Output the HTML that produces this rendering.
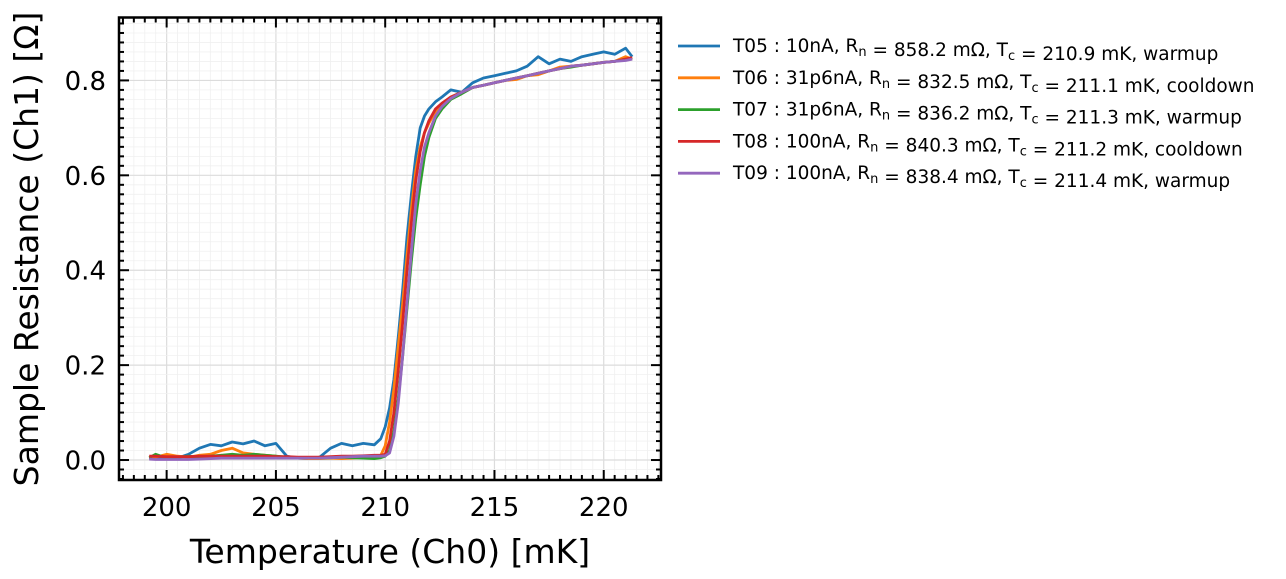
<!DOCTYPE html>
<html><head><meta charset="utf-8"><style>
html,body{margin:0;padding:0;background:#fff;width:1286px;height:579px;overflow:hidden}
svg{display:block;font-family:"DejaVu Sans","Liberation Sans",sans-serif}
</style></head><body>
<svg id="chart" width="1286" height="579" viewBox="0 0 1286 579" xmlns="http://www.w3.org/2000/svg">
<g id="grid"></g>
<g id="series"></g>
<g id="ticks"></g>
<rect x="119" y="17.5" width="542" height="462.5" fill="none" stroke="#000" stroke-width="2.5"/>
<text x="390" y="563" font-size="33" text-anchor="middle">Temperature (Ch0) [mK]</text>
<text transform="translate(38,249) rotate(-90)" font-size="33" text-anchor="middle">Sample Resistance (Ch1) [Ω]</text>
<g id="legend"></g>
</svg>
<script>
const temps=[199.2,199.5,200,200.5,201,201.5,202,202.5,203,203.5,204,204.5,205,205.5,206,206.5,207,207.5,208,208.5,209,209.5,209.8,210,210.2,210.4,210.6,210.8,211,211.2,211.4,211.6,211.8,212,212.3,212.6,213,213.5,214,214.5,215,215.5,216,216.5,217,217.5,218,218.5,219,219.5,220,220.5,221,221.3];
const t05=[.005,.003,.002,.004,.012,.025,.033,.030,.038,.034,.040,.030,.035,.008,.004,.003,.006,.025,.035,.030,.035,.032,.045,.07,.11,.17,.26,.36,.47,.56,.64,.70,.725,.74,.755,.765,.78,.775,.795,.805,.81,.815,.82,.83,.85,.835,.845,.84,.85,.855,.86,.855,.868,.85];
const t06=[.005,.006,.012,.008,.006,.010,.012,.020,.025,.015,.012,.010,.008,.005,.004,.003,.003,.004,.003,.004,.006,.008,.010,.03,.08,.15,.24,.33,.43,.53,.61,.66,.69,.71,.735,.75,.765,.775,.785,.79,.795,.80,.802,.81,.812,.82,.828,.83,.832,.835,.838,.84,.85,.845];
const t07=[.005,.012,.004,.006,.008,.006,.008,.010,.012,.010,.012,.010,.008,.006,.005,.004,.004,.005,.006,.005,.004,.003,.005,.008,.02,.06,.13,.22,.32,.42,.51,.58,.64,.68,.72,.74,.76,.772,.785,.79,.795,.80,.805,.81,.815,.82,.825,.828,.832,.835,.838,.84,.845,.845];
const t08=[.008,.008,.007,.007,.007,.008,.008,.008,.008,.008,.008,.008,.007,.007,.006,.006,.006,.007,.008,.008,.009,.010,.010,.012,.04,.10,.19,.29,.40,.50,.59,.65,.69,.715,.74,.752,.765,.775,.785,.79,.795,.80,.805,.81,.815,.82,.825,.83,.832,.835,.838,.84,.845,.848];
const t09=[.002,.001,.001,.001,.001,.002,.003,.004,.004,.004,.004,.004,.004,.004,.004,.004,.004,.005,.006,.007,.008,.008,.008,.009,.015,.05,.12,.22,.33,.44,.54,.61,.66,.69,.725,.745,.762,.775,.785,.79,.795,.80,.805,.81,.815,.82,.825,.83,.832,.835,.838,.84,.842,.845];
const seriesNames=["t05","t06","t07","t08","t09"];
const seriesData=[t05,t06,t07,t08,t09];
const colors=["#1f77b4","#ff7f0e","#2ca02c","#d62728","#9467bd"];
const legendLabels=[["T05 : 10nA, R","858.2 mΩ, T","210.9 mK, warmup"],["T06 : 31p6nA, R","832.5 mΩ, T","211.1 mK, cooldown"],["T07 : 31p6nA, R","836.2 mΩ, T","211.3 mK, warmup"],["T08 : 100nA, R","840.3 mΩ, T","211.2 mK, cooldown"],["T09 : 100nA, R","838.4 mΩ, T","211.4 mK, warmup"]];
const xTicks=[200,205,210,215,220];
const yTicks=[0,0.2,0.4,0.6,0.8];

const X0=119,X1=661,Y0=480,Y1=17.5;
const xmin=197.82,xmax=222.62,ymin=-0.0421,ymax=0.9326;
const xs=v=>X0+(v-xmin)/(xmax-xmin)*(X1-X0);
const ys=v=>Y0-(v-ymin)/(ymax-ymin)*(Y0-Y1);
const NS="http://www.w3.org/2000/svg";
function mk(tag,parent,attrs){const e=document.createElementNS(NS,tag);for(const k in attrs)e.setAttribute(k,attrs[k]);parent.appendChild(e);return e;}
const grid=document.getElementById('grid'),ticks=document.getElementById('ticks'),ser=document.getElementById('series'),leg=document.getElementById('legend');
for(let v=198;v<=222.5;v+=0.5){const x=xs(v);const major=Math.abs(v/5-Math.round(v/5))<1e-6;
 const l=mk('line',grid,{x1:x,x2:x,y1:Y1,y2:Y0,stroke:major?'#dcdcdc':'#f0f0f0','stroke-width':major?1.2:0.8});
 
 const len=major?10:5;
 const a=mk('line',ticks,{x1:x,x2:x,y1:Y0,y2:Y0-len,stroke:'#000','stroke-width':2});
 
 const b=mk('line',ticks,{x1:x,x2:x,y1:Y1,y2:Y1+len,stroke:'#000','stroke-width':2});
 }
for(let i=-2;i<=46;i++){const v=i*0.02;const y=ys(v);if(y<Y1||y>Y0)continue;const major=i%10===0;
 const l=mk('line',grid,{x1:X0,x2:X1,y1:y,y2:y,stroke:major?'#dcdcdc':'#f0f0f0','stroke-width':major?1.2:0.8});
 
 const len=major?10:5;
 const a=mk('line',ticks,{x1:X0,x2:X0+len,y1:y,y2:y,stroke:'#000','stroke-width':2});
 
 const b=mk('line',ticks,{x1:X1,x2:X1-len,y1:y,y2:y,stroke:'#000','stroke-width':2});
 }
xTicks.forEach(v=>{const t=mk('text',ticks,{x:xs(v),y:516,'font-size':26,'text-anchor':'middle'});t.textContent=String(v);
 });
yTicks.forEach(v=>{const t=mk('text',ticks,{x:106,y:ys(v)+9.5,'font-size':26,'text-anchor':'end'});t.textContent=v.toFixed(1);
 });
seriesData.forEach((d,i)=>{const pts=temps.map((t,j)=>xs(t).toFixed(1)+','+ys(d[j]).toFixed(1)).join(' ');
 const p=mk('polyline',ser,{points:pts,fill:'none',stroke:colors[i],'stroke-width':2.8,'stroke-linejoin':'round'});
 });
legendLabels.forEach((lb,i)=>{const y=46+i*31.8;
 const g=mk('g',leg,{});
 
 mk('line',g,{x1:678,x2:720,y1:y,y2:y,stroke:colors[i],'stroke-width':2.8});
 const t=mk('text',g,{x:733,y:y+6,'font-size':18.5});
 const s=(txt,sub)=>{const e=mk('tspan',t,{});e.textContent=txt;if(sub){const u=mk('tspan',t,{'font-size':13,dy:4});u.textContent=sub;const b=mk('tspan',t,{dy:-4});b.textContent='';}};
 s(lb[0],'n');s(' = '+lb[1],'c');s(' = '+lb[2]);});
</script>
</body></html>
